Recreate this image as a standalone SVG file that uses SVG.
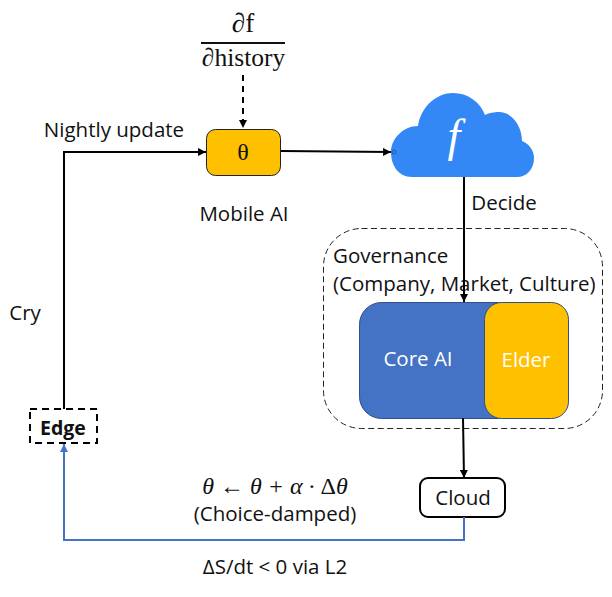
<svg xmlns="http://www.w3.org/2000/svg" width="612" height="597" viewBox="0 0 612 597">
<style>
text{font-family:"Open Sans","Noto Sans","Liberation Sans",sans-serif;font-size:20.500px;fill:#111;text-anchor:middle}
.m{font-family:"Liberation Serif","DejaVu Serif",serif}
.w{fill:#fff}
.c{fill:none;stroke:#000;stroke-width:2}
.b{fill:none;stroke:#4472c4;stroke-width:2}
</style>
<defs>
<marker id="a" markerWidth="10" markerHeight="8" refX="8" refY="4" orient="auto" markerUnits="userSpaceOnUse"><path d="M0 0L8 4L0 8z" fill="#000"/></marker>
<marker id="ab" markerWidth="10" markerHeight="8" refX="8" refY="4" orient="auto" markerUnits="userSpaceOnUse"><path d="M0 0L8 4L0 8z" fill="#4472c4"/></marker>
</defs>
<g id="governance">
<rect x="323.500" y="228.500" width="279" height="200" rx="38" fill="none" stroke="#222" stroke-dasharray="6 3.500"/>
<text x="333" y="263" style="text-anchor:start">Governance</text>
<text x="333" y="291" style="text-anchor:start">(Company, Market, Culture)</text>
</g>
<g id="core-ai">
<rect x="359.500" y="302.500" width="160" height="116" rx="22" fill="#4472c4" stroke="#2f4f88"/>
<text x="418" y="366" class="w">Core AI</text>
</g>
<g id="elder">
<rect x="484.500" y="302.500" width="84" height="116" rx="17" fill="#ffc000" stroke="#2f4f88"/>
<text x="526" y="367" class="w">Elder</text>
</g>
<g id="fraction">
<text x="243" y="32" class="m" style="font-size:27px">∂f</text>
<rect x="201" y="42" width="84" height="2" fill="#111"/>
<text x="243.500" y="66" class="m" style="font-size:25.500px">∂history</text>
</g>
<g id="theta">
<rect x="206.500" y="129.500" width="74" height="46" rx="9" fill="#ffc000" stroke="#222"/>
<text x="243" y="160" class="m" style="font-size:24px">θ</text>
</g>
<g id="cloud">
<path d="M412 177C398 177 391 165 391 152C391 139 403 126 418 126C421 106 437 93 453 93C468 93 480 102 485 115C491 112 497 112 499 112C512 112 522 126 522 141C529 144 534 150 534 158C534 170 526 177 517 177Z" fill="#3388f5"/>
<circle cx="394" cy="152" r="2" fill="none" stroke="#245a9c"/>
<text x="454" y="151" class="m w" style="font-size:46px;font-style:italic">f</text>
</g>
<g id="cloud-node">
<rect x="420" y="478" width="85" height="39" rx="8" fill="#fff" stroke="#000" stroke-width="2"/>
<text x="463" y="505">Cloud</text>
</g>
<g id="edge">
<rect x="30" y="409" width="67" height="34" fill="#fff" stroke="#000" stroke-width="2" stroke-dasharray="7 5"/>
<text x="63" y="435" style="font-weight:700;font-size:19.500px">Edge</text>
</g>
<g id="connectors">
<path class="c" d="M64 409V152H206" marker-end="url(#a)"/>
<path class="c" d="M243 75V128" stroke-dasharray="6 5" marker-end="url(#a)"/>
<path class="c" d="M281 151L391 152" marker-end="url(#a)"/>
<path class="c" d="M464 177V302" marker-end="url(#a)"/>
<path class="c" d="M463 418L464 478" marker-end="url(#a)"/>
<path class="b" d="M464 517V540H64V444" marker-end="url(#ab)"/>
</g>
<g id="labels">
<text x="114" y="137">Nightly update</text>
<text x="244" y="221">Mobile AI</text>
<text x="504" y="210">Decide</text>
<text x="25" y="320">Cry</text>
<text x="275" y="494" class="m" style="font-size:24px;font-style:italic">θ ← θ + α · <tspan style="font-style:normal">Δ</tspan>θ</text>
<text x="275" y="521">(Choice-damped)</text>
<text x="275" y="574">ΔS/dt &lt; 0 via L2</text>
</g>
</svg>
